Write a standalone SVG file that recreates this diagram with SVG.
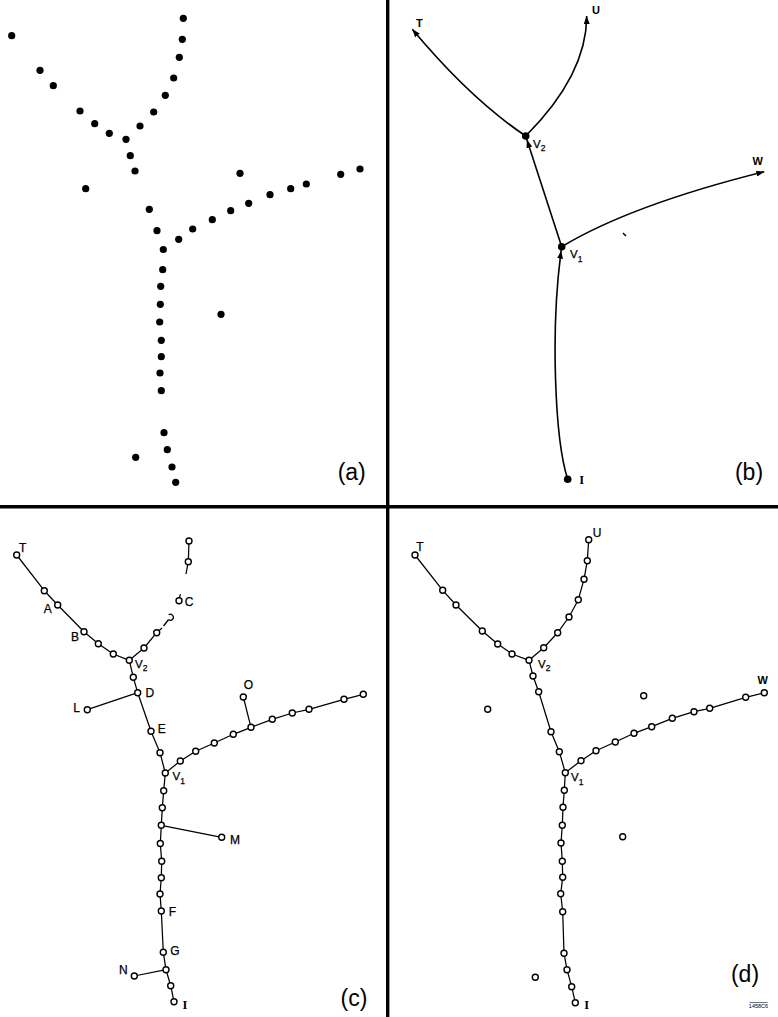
<svg xmlns="http://www.w3.org/2000/svg" width="778" height="1017" viewBox="0 0 778 1017">
  <style>
    .dot { fill: #000; }
    .node { fill: #fff; stroke: #000; stroke-width: 1.4; }
    .edge { fill: none; stroke: #000; stroke-width: 1.25; stroke-linejoin: round; }
    .curve { fill: none; stroke: #000; stroke-width: 1.6; }
    .rule { stroke: #000; stroke-width: 3.4; }
    .lbl { font-family: "Liberation Sans", Arial, sans-serif; font-size: 12px; fill: #000; stroke: #000; stroke-width: 0.25; text-anchor: middle; }
    .lblb { font-family: "Liberation Sans", Arial, sans-serif; font-size: 11px; font-weight: bold; fill: #000; text-anchor: middle; }
    .vl { font-family: "Liberation Sans", Arial, sans-serif; font-size: 11.5px; fill: #000; stroke: #000; stroke-width: 0.25; }
    .sub { font-size: 8.5px; }
    .ser { font-family: "Liberation Serif", "Times New Roman", serif; font-size: 12.5px; font-weight: bold; fill: #000; text-anchor: middle; }
    .panel { font-family: "Liberation Sans", Arial, sans-serif; font-size: 23px; fill: #000; text-anchor: middle; }
    .tiny { font-family: "Liberation Sans", Arial, sans-serif; font-size: 5.5px; fill: #000; text-anchor: middle; }
  </style>
  <defs>
    <marker id="tip" markerUnits="userSpaceOnUse" viewBox="0 0 8 6" markerWidth="8" markerHeight="6" refX="8" refY="3" orient="auto">
      <path d="M0,0 L8,3 L0,6 z" fill="#000"/>
    </marker>
    <marker id="tipDot" markerUnits="userSpaceOnUse" viewBox="0 0 12 6" markerWidth="12" markerHeight="6" refX="12" refY="3" orient="auto">
      <path d="M0,0 L8,3 L0,6 z" fill="#000"/>
    </marker>
  </defs>

  <!-- frame dividers -->
  <g id="dividers">
    <line class="rule" x1="387.7" y1="0" x2="387.7" y2="1017"/>
    <line class="rule" x1="0" y1="506.8" x2="778" y2="506.8"/>
  </g>

  <!-- (a) raw point set -->
  <g id="panel-a">
    <circle class="dot" cx="11.7" cy="35.7" r="3.6"/>
    <circle class="dot" cx="183.3" cy="18.3" r="3.6"/>
    <circle class="dot" cx="182.3" cy="39.3" r="3.6"/>
    <circle class="dot" cx="179.3" cy="57.3" r="3.6"/>
    <circle class="dot" cx="173.7" cy="78" r="3.6"/>
    <circle class="dot" cx="165.3" cy="95.3" r="3.6"/>
    <circle class="dot" cx="153.7" cy="112" r="3.6"/>
    <circle class="dot" cx="140" cy="126" r="3.6"/>
    <circle class="dot" cx="126" cy="139.3" r="3.6"/>
    <circle class="dot" cx="130.3" cy="155.7" r="3.6"/>
    <circle class="dot" cx="135" cy="171" r="3.6"/>
    <circle class="dot" cx="40" cy="70.3" r="3.6"/>
    <circle class="dot" cx="53.3" cy="85.7" r="3.6"/>
    <circle class="dot" cx="80" cy="111" r="3.6"/>
    <circle class="dot" cx="94.7" cy="123.7" r="3.6"/>
    <circle class="dot" cx="109.3" cy="133.3" r="3.6"/>
    <circle class="dot" cx="85.7" cy="188.7" r="3.6"/>
    <circle class="dot" cx="149.3" cy="209.3" r="3.6"/>
    <circle class="dot" cx="157" cy="230.7" r="3.6"/>
    <circle class="dot" cx="163.3" cy="249.5" r="3.6"/>
    <circle class="dot" cx="178.7" cy="239.3" r="3.6"/>
    <circle class="dot" cx="192.7" cy="229" r="3.6"/>
    <circle class="dot" cx="212.3" cy="219.7" r="3.6"/>
    <circle class="dot" cx="230.7" cy="210.7" r="3.6"/>
    <circle class="dot" cx="248.7" cy="203.3" r="3.6"/>
    <circle class="dot" cx="270" cy="194.7" r="3.6"/>
    <circle class="dot" cx="290.7" cy="188.7" r="3.6"/>
    <circle class="dot" cx="306.3" cy="184" r="3.6"/>
    <circle class="dot" cx="340.7" cy="174.3" r="3.6"/>
    <circle class="dot" cx="360" cy="169" r="3.6"/>
    <circle class="dot" cx="240" cy="173.3" r="3.6"/>
    <circle class="dot" cx="162.7" cy="269.7" r="3.6"/>
    <circle class="dot" cx="160.7" cy="286.3" r="3.6"/>
    <circle class="dot" cx="160.3" cy="304.3" r="3.6"/>
    <circle class="dot" cx="159.7" cy="322" r="3.6"/>
    <circle class="dot" cx="161.3" cy="340.3" r="3.6"/>
    <circle class="dot" cx="161.3" cy="356.7" r="3.6"/>
    <circle class="dot" cx="160" cy="373" r="3.6"/>
    <circle class="dot" cx="161.3" cy="390.7" r="3.6"/>
    <circle class="dot" cx="221" cy="314.3" r="3.6"/>
    <circle class="dot" cx="164" cy="432.7" r="3.6"/>
    <circle class="dot" cx="167.3" cy="449.7" r="3.6"/>
    <circle class="dot" cx="135.7" cy="457.3" r="3.6"/>
    <circle class="dot" cx="172" cy="467" r="3.6"/>
    <circle class="dot" cx="175.7" cy="482.3" r="3.6"/>
    <text class="panel" x="351.7" y="480">(a)</text>
  </g>

  <!-- (b) fitted skeleton with vertices -->
  <g id="panel-b">
    <g id="b-connectors">
      <path class="curve" d="M525.7,136 Q470.4,99 412.3,29.3" marker-end="url(#tip)"/>
      <path class="curve" d="M525.7,136 Q586.7,75 586.7,16" marker-end="url(#tip)"/>
      <path class="curve" d="M561.7,246.7 Q631,205 764.3,171.7" marker-end="url(#tip)"/>
      <path class="curve" d="M561.7,246.7 L525.7,136" marker-end="url(#tipDot)"/>
      <path class="curve" d="M567.7,479.3 C555,440 550,330 561.7,246.7" marker-end="url(#tipDot)"/>
      <line x1="623" y1="233" x2="626" y2="236" stroke="#000" stroke-width="1.5"/>
    </g>
    <g id="b-V2"><circle class="dot" cx="525.7" cy="136" r="3.8"/><text class="vl" x="533" y="147.5">V<tspan class="sub" dy="3">2</tspan></text></g>
    <g id="b-V1"><circle class="dot" cx="561.7" cy="246.7" r="3.8"/><text class="vl" x="570" y="258">V<tspan class="sub" dy="4">1</tspan></text></g>
    <g id="b-I"><circle class="dot" cx="567.7" cy="479.3" r="3.8"/><text class="ser" x="581.7" y="483.8">I</text></g>
    <g id="b-T"><text class="lblb" x="419.3" y="26.5">T</text></g>
    <g id="b-U"><text class="lblb" x="596" y="14">U</text></g>
    <g id="b-W"><text class="lblb" x="757.7" y="164.5">W</text></g>
    <text class="panel" x="749" y="480">(b)</text>
  </g>

  <!-- (c) traced graph with side branches -->
  <g id="panel-c">
    <g id="c-connectors">
      <polyline class="edge" points="16.7,555 44.3,590.7 57.7,605 84,631.7 98.3,643.7 113.3,654 129.3,660.3"/>
      <polyline class="edge" points="129.3,660.3 144,648 156.7,632.7 162,628"/>
      <line class="edge" x1="163.5" y1="626" x2="168.6" y2="619.5"/>
      <line class="edge" x1="179.5" y1="597.7" x2="180.4" y2="594.2"/>
      <polyline class="edge" points="189,541 188.3,561.7 186,574"/>
      <polyline class="edge" points="129.3,660.3 133.3,677.3 137.7,692.7 151,731.3 160,752.7 165.3,773"/>
      <line class="edge" x1="87.3" y1="709.7" x2="137.7" y2="692.7"/>
      <polyline class="edge" points="165.3,773 180.3,761 195.7,751.3 214.3,743 233.3,734.3 251,727.3 272.3,719.3 292.3,713 309,709.3 344,699.3 363.3,694.3"/>
      <line class="edge" x1="243.3" y1="697" x2="251" y2="727.3"/>
      <polyline class="edge" points="165.3,773 163.7,790.7 162.3,807.7 161.3,825.3 160.3,843.5 161.7,861.3 161.3,877.7 160,894 161.3,911 163.3,952.3 166,969.7 170.7,985.7 174,1001.7"/>
      <line class="edge" x1="221.7" y1="837.3" x2="161.3" y2="825.3"/>
      <line class="edge" x1="134.3" y1="976" x2="166" y2="969.7"/>
    </g>
    <g id="c-T"><circle class="node" cx="16.7" cy="555" r="3"/><text class="lbl" x="22.7" y="552">T</text></g>
    <circle class="node" cx="44.3" cy="590.7" r="3"/>
    <g id="c-A"><circle class="node" cx="57.7" cy="605" r="3"/><text class="lbl" x="47.7" y="613">A</text></g>
    <g id="c-B"><circle class="node" cx="84" cy="631.7" r="3"/><text class="lbl" x="75" y="641">B</text></g>
    <circle class="node" cx="98.3" cy="643.7" r="3"/>
    <circle class="node" cx="113.3" cy="654" r="3"/>
    <g id="c-V2"><circle class="node" cx="129.3" cy="660.3" r="3"/><text class="vl" x="135" y="667.5">V<tspan class="sub" dy="3">2</tspan></text></g>
    <circle class="node" cx="144" cy="648" r="3"/>
    <circle class="node" cx="156.7" cy="632.7" r="3"/>
    <path class="edge" d="M168.7,614.8 A3,3 0 1 1 168.7,619.8" stroke-width="1.4"/>
    <g id="c-C"><circle class="node" cx="179" cy="600.7" r="3"/><text class="lbl" x="189" y="606">C</text></g>
    <circle class="node" cx="189" cy="541" r="3"/>
    <circle class="node" cx="188.3" cy="561.7" r="3"/>
    <circle class="node" cx="133.3" cy="677.3" r="3"/>
    <g id="c-D"><circle class="node" cx="137.7" cy="692.7" r="3"/><text class="lbl" x="149.8" y="696.5">D</text></g>
    <g id="c-L"><circle class="node" cx="87.3" cy="709.7" r="3"/><text class="lbl" x="76.7" y="711.5">L</text></g>
    <g id="c-E"><circle class="node" cx="151" cy="731.3" r="3"/><text class="lbl" x="161.7" y="732.5">E</text></g>
    <circle class="node" cx="160" cy="752.7" r="3"/>
    <g id="c-V1"><circle class="node" cx="165.3" cy="773" r="3"/><text class="vl" x="172.5" y="780">V<tspan class="sub" dy="4">1</tspan></text></g>
    <circle class="node" cx="180.3" cy="761" r="3"/>
    <circle class="node" cx="195.7" cy="751.3" r="3"/>
    <circle class="node" cx="214.3" cy="743" r="3"/>
    <circle class="node" cx="233.3" cy="734.3" r="3"/>
    <circle class="node" cx="251" cy="727.3" r="3"/>
    <g id="c-O"><circle class="node" cx="243.3" cy="697" r="3"/><text class="lbl" x="248.3" y="689">O</text></g>
    <circle class="node" cx="272.3" cy="719.3" r="3"/>
    <circle class="node" cx="292.3" cy="713" r="3"/>
    <circle class="node" cx="309" cy="709.3" r="3"/>
    <circle class="node" cx="344" cy="699.3" r="3"/>
    <circle class="node" cx="363.3" cy="694.3" r="3"/>
    <circle class="node" cx="163.7" cy="790.7" r="3"/>
    <circle class="node" cx="162.3" cy="807.7" r="3"/>
    <circle class="node" cx="161.3" cy="825.3" r="3"/>
    <g id="c-M"><circle class="node" cx="221.7" cy="837.3" r="3"/><text class="lbl" x="235" y="844.3">M</text></g>
    <circle class="node" cx="160.3" cy="843.5" r="3"/>
    <circle class="node" cx="161.7" cy="861.3" r="3"/>
    <circle class="node" cx="161.3" cy="877.7" r="3"/>
    <circle class="node" cx="160" cy="894" r="3"/>
    <g id="c-F"><circle class="node" cx="161.3" cy="911" r="3"/><text class="lbl" x="172.3" y="916">F</text></g>
    <g id="c-G"><circle class="node" cx="163.3" cy="952.3" r="3"/><text class="lbl" x="175" y="955.3">G</text></g>
    <circle class="node" cx="166" cy="969.7" r="3"/>
    <g id="c-N"><circle class="node" cx="134.3" cy="976" r="3"/><text class="lbl" x="123.3" y="974.3">N</text></g>
    <circle class="node" cx="170.7" cy="985.7" r="3"/>
    <g id="c-I"><circle class="node" cx="174" cy="1001.7" r="3"/><text class="ser" x="185" y="1009.3">I</text></g>
    <text class="panel" x="354" y="1005.5">(c)</text>
  </g>

  <!-- (d) final graph with unassigned points -->
  <g id="panel-d">
    <g id="d-connectors">
      <polyline class="edge" points="415,555 442.7,590.3 456,605 482.3,631 497.7,644 512,654 529,660.3"/>
      <polyline class="edge" points="529,660.3 543.7,647.7 557.7,632.7 569,617 578.3,599.7 584,579.3 587.3,560.7 588.7,539.7"/>
      <polyline class="edge" points="529,660.3 533,676 538.7,691.7 551,731.7 559.3,751.7 565.3,772.7"/>
      <polyline class="edge" points="565.3,772.7 581,760.7 596,750.7 615.3,742 634,733.3 651.7,726.7 672.3,718.3 694,711.7 709.7,708.3 745.7,697.3 764.3,692.7"/>
      <polyline class="edge" points="565.3,772.7 564.3,790.3 563,807.3 562.3,825.3 561,843 562.3,861.3 562.7,877.3 560.7,893.7 562.7,911.7 564,953.3 567,969.7 571.7,986.7 575.3,1002.7"/>
    </g>
    <g id="d-T"><circle class="node" cx="415" cy="555" r="3"/><text class="lbl" x="420" y="551">T</text></g>
    <circle class="node" cx="442.7" cy="590.3" r="3"/>
    <circle class="node" cx="456" cy="605" r="3"/>
    <circle class="node" cx="482.3" cy="631" r="3"/>
    <circle class="node" cx="497.7" cy="644" r="3"/>
    <circle class="node" cx="512" cy="654" r="3"/>
    <g id="d-V2"><circle class="node" cx="529" cy="660.3" r="3"/><text class="vl" x="538" y="668">V<tspan class="sub" dy="3">2</tspan></text></g>
    <circle class="node" cx="543.7" cy="647.7" r="3"/>
    <circle class="node" cx="557.7" cy="632.7" r="3"/>
    <circle class="node" cx="569" cy="617" r="3"/>
    <circle class="node" cx="578.3" cy="599.7" r="3"/>
    <circle class="node" cx="584" cy="579.3" r="3"/>
    <circle class="node" cx="587.3" cy="560.7" r="3"/>
    <g id="d-U"><circle class="node" cx="588.7" cy="539.7" r="3"/><text class="lbl" x="597" y="537">U</text></g>
    <circle class="node" cx="533" cy="676" r="3"/>
    <circle class="node" cx="538.7" cy="691.7" r="3"/>
    <circle class="node" cx="551" cy="731.7" r="3"/>
    <circle class="node" cx="559.3" cy="751.7" r="3"/>
    <g id="d-V1"><circle class="node" cx="565.3" cy="772.7" r="3"/><text class="vl" x="571" y="781">V<tspan class="sub" dy="4">1</tspan></text></g>
    <circle class="node" cx="581" cy="760.7" r="3"/>
    <circle class="node" cx="596" cy="750.7" r="3"/>
    <circle class="node" cx="615.3" cy="742" r="3"/>
    <circle class="node" cx="634" cy="733.3" r="3"/>
    <circle class="node" cx="651.7" cy="726.7" r="3"/>
    <circle class="node" cx="672.3" cy="718.3" r="3"/>
    <circle class="node" cx="694" cy="711.7" r="3"/>
    <circle class="node" cx="709.7" cy="708.3" r="3"/>
    <circle class="node" cx="745.7" cy="697.3" r="3"/>
    <g id="d-W"><circle class="node" cx="764.3" cy="692.7" r="3"/><text class="lblb" x="762.7" y="684">W</text></g>
    <circle class="node" cx="564.3" cy="790.3" r="3"/>
    <circle class="node" cx="563" cy="807.3" r="3"/>
    <circle class="node" cx="562.3" cy="825.3" r="3"/>
    <circle class="node" cx="561" cy="843" r="3"/>
    <circle class="node" cx="562.3" cy="861.3" r="3"/>
    <circle class="node" cx="562.7" cy="877.3" r="3"/>
    <circle class="node" cx="560.7" cy="893.7" r="3"/>
    <circle class="node" cx="562.7" cy="911.7" r="3"/>
    <circle class="node" cx="564" cy="953.3" r="3"/>
    <circle class="node" cx="567" cy="969.7" r="3"/>
    <circle class="node" cx="571.7" cy="986.7" r="3"/>
    <g id="d-I"><circle class="node" cx="575.3" cy="1002.7" r="3"/><text class="ser" x="586.7" y="1009.3">I</text></g>
    <g id="d-isolated">
      <circle class="node" cx="487.7" cy="709.3" r="3"/>
      <circle class="node" cx="643.7" cy="695.7" r="3"/>
      <circle class="node" cx="622.7" cy="836.7" r="3"/>
      <circle class="node" cx="535.3" cy="977.3" r="3"/>
    </g>
    <text class="panel" x="745" y="982">(d)</text>
    <line x1="749.5" y1="1002.6" x2="767.5" y2="1002.6" stroke="#000" stroke-width="0.6"/>
    <text class="tiny" x="758.5" y="1008">1458C6</text>
  </g>
</svg>
